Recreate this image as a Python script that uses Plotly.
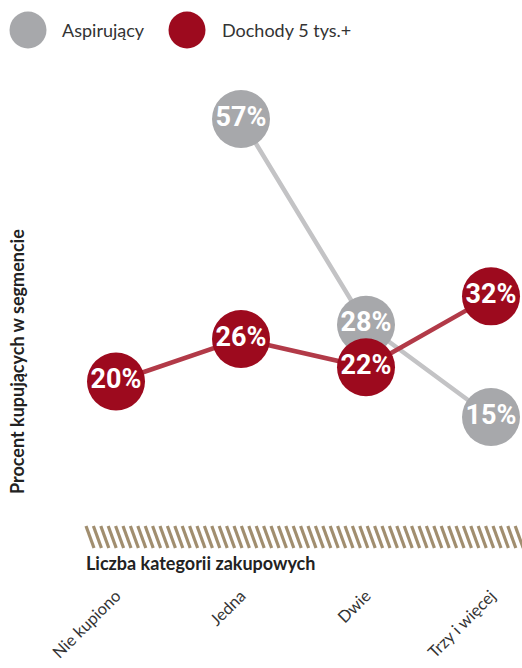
import plotly.graph_objects as go

# Data
categories = ["Nie kupiono", "Jedna", "Dwie", "Trzy i więcej"]
aspirujacy = [None, 57, 28, 15]
dochody = [20, 26, 22, 32]

series_names = ["Aspirujący", "Dochody 5 tys.+"]
marker_colors = ["#a7a8ab", "#9d0a1e"]
line_colors = ["#c3c3c5", "#b23a48"]

W, H = 522, 668
ML, MR, MT, MB = 85, 0, 60, 88
PW, PH = W - ML - MR, H - MT - MB


def px(x):
    return (x - ML) / PW


def py(y):
    return (H - MB - y) / PH


def pct(vals):
    return [f"{v}%" if v is not None else "" for v in vals]


fig = go.Figure()

# connecting lines first, markers on top
for vals, lc in [(aspirujacy, line_colors[0]), (dochody, line_colors[1])]:
    fig.add_trace(go.Scatter(
        x=categories, y=vals, mode="lines",
        line=dict(color=lc, width=4.5),
        connectgaps=False, hoverinfo="skip", showlegend=False,
    ))

for name, vals, mc in [(series_names[0], aspirujacy, marker_colors[0]),
                       (series_names[1], dochody, marker_colors[1])]:
    fig.add_trace(go.Scatter(
        x=categories, y=vals, mode="markers+text", name=name,
        marker=dict(color=mc, size=58, line=dict(width=0)),
        text=pct(vals), textposition="middle center",
        textfont=dict(family="Roboto", size=27,
                      color="white", weight="bold"),
        showlegend=False,
    ))

shapes = []
# hatched band along the bottom of the plot
top, bot = 526, 548
x0 = 86.0
while x0 + 8 < W + 8:
    shapes.append(dict(type="line", xref="paper", yref="paper",
                       x0=px(x0), y0=py(top), x1=px(x0 + 8), y1=py(bot),
                       line=dict(color="#a18e6f", width=3.2)))
    x0 += 7.4

# legend
annotations = []
legend_items = [(28, 60, series_names[0], marker_colors[0]),
                (187, 220, series_names[1], marker_colors[1])]
for cx, tx, label, col in legend_items:
    r = 18.5
    shapes.append(dict(type="circle", xref="paper", yref="paper",
                       x0=px(cx - r), x1=px(cx + r), y0=py(30 - r), y1=py(30 + r),
                       fillcolor=col, line=dict(width=0)))
    annotations.append(dict(xref="paper", yref="paper", x=px(tx), y=py(30),
                            xanchor="left", yanchor="middle", showarrow=False,
                            text=label,
                            font=dict(family="Lato", size=18, color="#333333")))

annotations.append(dict(xref="paper", yref="paper", x=px(17), y=py(362),
                        xanchor="center", yanchor="middle", showarrow=False,
                        textangle=-90, text="<b>Procent kupujących w segmencie</b>",
                        font=dict(family="Lato", size=18, color="#222222")))
annotations.append(dict(xref="paper", yref="paper", x=px(84), y=py(563),
                        xanchor="left", yanchor="middle", showarrow=False,
                        text="<b>Liczba kategorii zakupowych</b>",
                        font=dict(family="Lato", size=18, color="#222222")))

y_per_px = 7.095
y_zero_px = 523.4
ymax = (y_zero_px - MT) / y_per_px
ymin = ymax - PH / y_per_px

fig.update_layout(
    width=W, height=H,
    margin=dict(l=ML, r=MR, t=MT, b=MB, pad=0, autoexpand=False),
    paper_bgcolor="white", plot_bgcolor="white",
    showlegend=False,
    shapes=shapes, annotations=annotations,
    xaxis=dict(type="category", categoryorder="array", categoryarray=categories,
               range=[-0.248, 3.248], showgrid=False, zeroline=False,
               showline=False, ticks="", tickangle=-45, automargin=False,
               ticklabelstandoff=2,
               tickfont=dict(family="Lato", size=16.5, color="#333333")),
    yaxis=dict(range=[ymin, ymax], showgrid=False, zeroline=False,
               showline=False, showticklabels=False, ticks="",
               automargin=False),
    font=dict(family="Lato"),
)

fig.write_html("out.html")
